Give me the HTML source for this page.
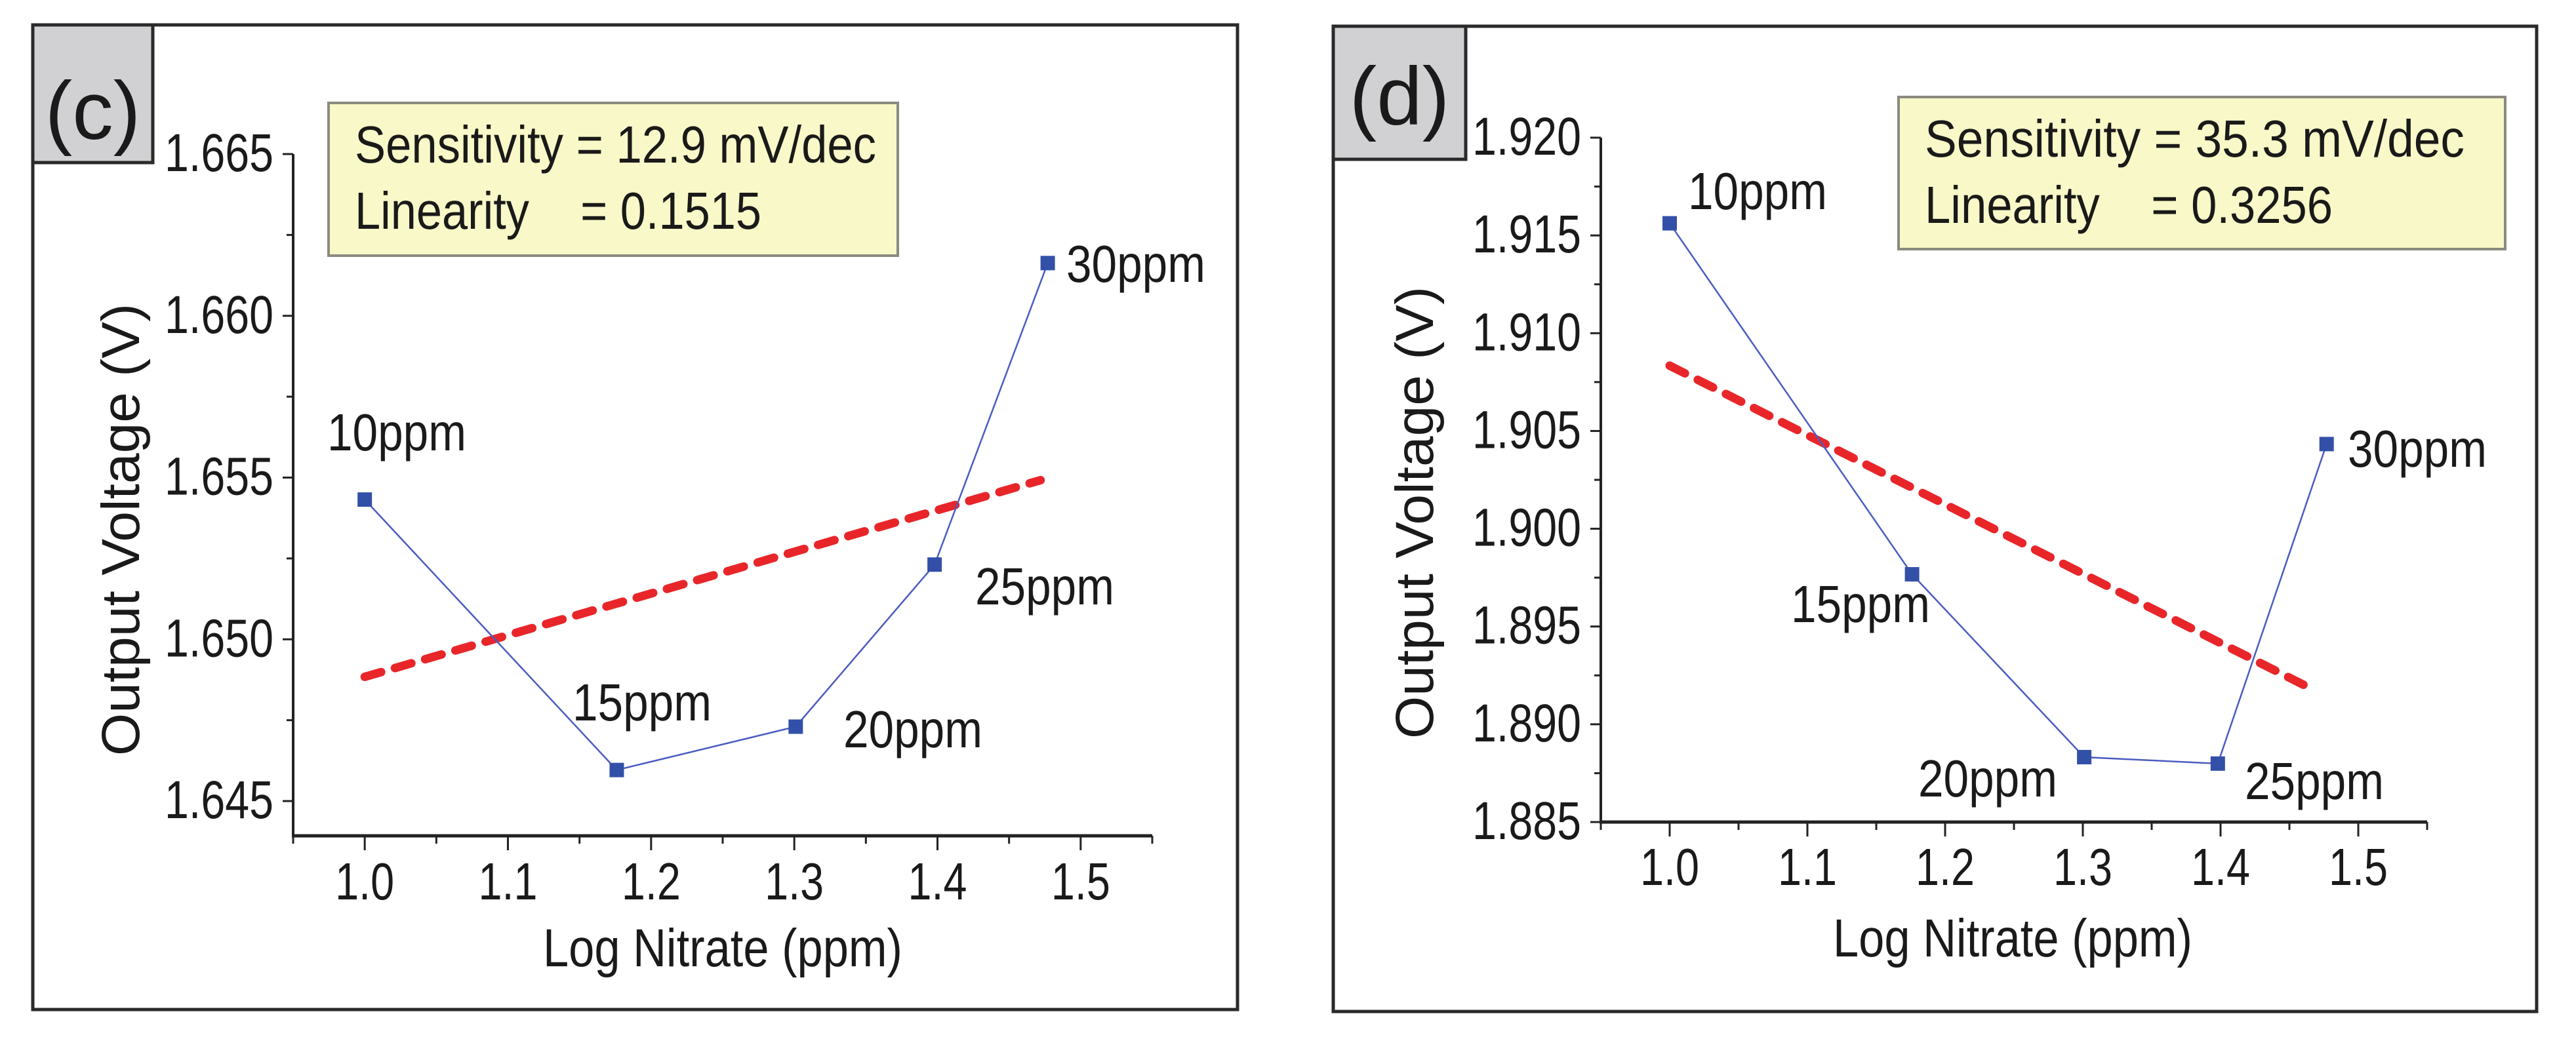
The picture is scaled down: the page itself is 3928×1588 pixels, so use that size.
<!DOCTYPE html>
<html><head><meta charset="utf-8"><style>
html,body{margin:0;padding:0;background:#fff;}
svg{display:block;}
text{font-family:"Liberation Sans",Arial,sans-serif;fill:#1a1a1a;}
.pre{white-space:pre;}
</style></head><body>
<svg id="fig" width="3928" height="1588" viewBox="0 0 3928 1588" xmlns="http://www.w3.org/2000/svg"></svg>
<script>
// ---- data ----
const logX = [1.0, 1.176, 1.301, 1.398, 1.477];
const ppmLabels = ["10ppm", "15ppm", "20ppm", "25ppm", "30ppm"];
const voltC = [1.65432, 1.64596, 1.6473, 1.65231, 1.66163];
const voltD = [1.91562, 1.89767, 1.88832, 1.88799, 1.90433];
const fitXC = [1.0, 1.472];
const fitYC = [1.64884, 1.65492];
const fitXD = [1.0, 1.465];
const fitYD = [1.90834, 1.89185];
const xTicks = [1.0, 1.1, 1.2, 1.3, 1.4, 1.5];
const xTickLabels = ["1.0", "1.1", "1.2", "1.3", "1.4", "1.5"];
const yTicksC = [1.645, 1.650, 1.655, 1.660, 1.665];
const yTickLabelsC = ["1.645", "1.650", "1.655", "1.660", "1.665"];
const yTicksD = [1.885, 1.890, 1.895, 1.900, 1.905, 1.910, 1.915, 1.920];
const yTickLabelsD = ["1.885", "1.890", "1.895", "1.900", "1.905", "1.910", "1.915", "1.920"];

const NS = "http://www.w3.org/2000/svg";
const svg = document.getElementById("fig");
function mk(tag, attrs, parent, txt) {
  const e = document.createElementNS(NS, tag);
  for (const k in attrs) e.setAttribute(k, attrs[k]);
  if (txt !== undefined) e.textContent = txt;
  (parent || svg).appendChild(e);
  return e;
}

function panel(cfg) {
  const g = mk("g", {});
  
  
  const X = v => cfg.xL + (v - 0.95) / 0.6 * (cfg.xR - cfg.xL);
  const Y = v => cfg.yTopPx + (cfg.yTopV - v) / (cfg.yTopV - cfg.yBotV) * (cfg.yBotPx - cfg.yTopPx);

  const border = mk("rect", {x: cfg.bx, y: cfg.by, width: cfg.bw, height: cfg.bh, fill: "none", stroke: "#2a2a2a", "stroke-width": 5}, g);
  
  
  const lb = mk("rect", {x: cfg.bx, y: cfg.by, width: cfg.lbw, height: cfg.lbh, fill: "#d1d1d3", stroke: "#2a2a2a", "stroke-width": 5}, g);
  
  
  const lt = mk("text", {x: cfg.bx + cfg.lbw / 2, y: cfg.labelBase, "font-size": 125, "text-anchor": "middle"}, g, cfg.letter);
  
  

  const axisBottom = cfg.axisBottom;
  const ya = mk("line", {x1: cfg.xL, y1: cfg.yTopPx, x2: cfg.xL, y2: axisBottom, stroke: "#222", "stroke-width": 4}, g);
  
  
  const xa = mk("line", {x1: cfg.xL - 2, y1: axisBottom, x2: cfg.xR, y2: axisBottom, stroke: "#222", "stroke-width": 5}, g);
  
  

  for (let i = 0; i <= 12; i++) {
    const v = 0.95 + i * 0.05;
    const major = i % 2 === 1;
    const t = mk("line", {x1: X(v), y1: axisBottom, x2: X(v), y2: axisBottom + (major ? 22 : 12), stroke: "#222", "stroke-width": 3}, g);
    
    
  }
  xTicks.forEach((v, i) => {
    const t = mk("text", {x: X(v), y: cfg.xLabBase, "font-size": 80, "text-anchor": "middle", textLength: 90, lengthAdjust: "spacingAndGlyphs"}, g, xTickLabels[i]);
    
    
  });
  cfg.yTicks.forEach((v, i) => {
    const t = mk("line", {x1: cfg.xL - 16, y1: Y(v), x2: cfg.xL, y2: Y(v), stroke: "#222", "stroke-width": 3}, g);
    
    
    if (i < cfg.yTicks.length - 1) {
      const m = mk("line", {x1: cfg.xL - 10, y1: Y(v + 0.0025), x2: cfg.xL, y2: Y(v + 0.0025), stroke: "#222", "stroke-width": 3}, g);
      
      
    }
    const l = mk("text", {x: cfg.xL - 30, y: Y(v) + 26, "font-size": 82, "text-anchor": "end", textLength: 166, lengthAdjust: "spacingAndGlyphs"}, g, cfg.yTickLabels[i]);
    
    
  });
  const xt = mk("text", {x: cfg.xTitleX, y: cfg.xTitleBase, "font-size": 82, "text-anchor": "middle", textLength: 548, lengthAdjust: "spacingAndGlyphs"}, g, "Log Nitrate (ppm)");
  
  
  const yt = mk("text", {x: 0, y: 0, "font-size": 82, "text-anchor": "middle", textLength: 690, lengthAdjust: "spacingAndGlyphs", transform: `translate(${cfg.yTitleX},${cfg.yTitleY}) rotate(-90)`}, g, "Output Voltage (V)");
  
  

  const fit = mk("line", {x1: X(cfg.fitX[0]), y1: Y(cfg.fitY[0]), x2: X(cfg.fitX[1]), y2: Y(cfg.fitY[1]), stroke: "#e8262a", "stroke-width": 13, "stroke-dasharray": "26 22", "stroke-linecap": "round"}, g);
  
  

  const pts = logX.map((x, i) => X(x) + "," + Y(cfg.volt[i])).join(" ");
  const pl = mk("polyline", {points: pts, fill: "none", stroke: "#4a5cc0", "stroke-width": 2.5}, g);
  
  
  logX.forEach((x, i) => {
    const r = mk("rect", {x: X(x) - 11, y: Y(cfg.volt[i]) - 11, width: 22, height: 22, fill: "#3350a8"}, g);
    
    
    const t = mk("text", {x: cfg.labPos[i][0], y: cfg.labPos[i][1], "font-size": 80, textLength: 212, lengthAdjust: "spacingAndGlyphs"}, g, ppmLabels[i]);
    
    
  });

  const sb = mk("rect", {x: cfg.sbx, y: cfg.sby, width: cfg.sbw, height: cfg.sbh, fill: "#f8f8c8", stroke: "#8a8a80", "stroke-width": 4}, g);
  
  
  const s1 = mk("text", {x: cfg.sbx + 40, y: cfg.sby + 91, "font-size": 80, textLength: cfg.s1len, lengthAdjust: "spacingAndGlyphs"}, g, cfg.sens);
  
  
  const s2 = mk("text", {x: cfg.sbx + 40, y: cfg.sby + 192, "font-size": 80, textLength: cfg.s2len, lengthAdjust: "spacingAndGlyphs", "class": "pre", style: "white-space:pre"}, g, cfg.lin);
  
  
}

panel({
  name: "panel-c", letter: "(c)",
  bx: 50, by: 38, bw: 1837, bh: 1502, lbw: 183, lbh: 210, labelBase: 212,
  xL: 447, xR: 1757, yTopPx: 235, yBotPx: 1222, yTopV: 1.665, yBotV: 1.645, axisBottom: 1275,
  yTicks: yTicksC, yTickLabels: yTickLabelsC, volt: voltC, fitX: fitXC, fitY: fitYC,
  xLabBase: 1372, xTitleX: 1102, xTitleBase: 1474, yTitleX: 212, yTitleY: 808,
  labPos: [[499, 687], [873, 1099], [1286, 1140], [1487, 922], [1626, 430]],
  sbx: 501, sby: 157, sbw: 868, sbh: 233,
  sens: "Sensitivity = 12.9 mV/dec", lin: "Linearity    = 0.1515", s1len: 795, s2len: 620
});
panel({
  name: "panel-d", letter: "(d)",
  bx: 2033, by: 40, bw: 1835, bh: 1503, lbw: 202, lbh: 203, labelBase: 190,
  xL: 2441, xR: 3701, yTopPx: 210, yBotPx: 1254, yTopV: 1.920, yBotV: 1.885, axisBottom: 1254,
  yTicks: yTicksD, yTickLabels: yTickLabelsD, volt: voltD, fitX: fitXD, fitY: fitYD,
  xLabBase: 1350, xTitleX: 3069, xTitleBase: 1459, yTitleX: 2185, yTitleY: 782,
  labPos: [[2574, 319], [2731, 949], [2925, 1215], [3423, 1219], [3580, 712]],
  sbx: 2895, sby: 148, sbw: 925, sbh: 232,
  sens: "Sensitivity = 35.3 mV/dec", lin: "Linearity    = 0.3256", s1len: 823, s2len: 622
});
</script>
</body></html>
